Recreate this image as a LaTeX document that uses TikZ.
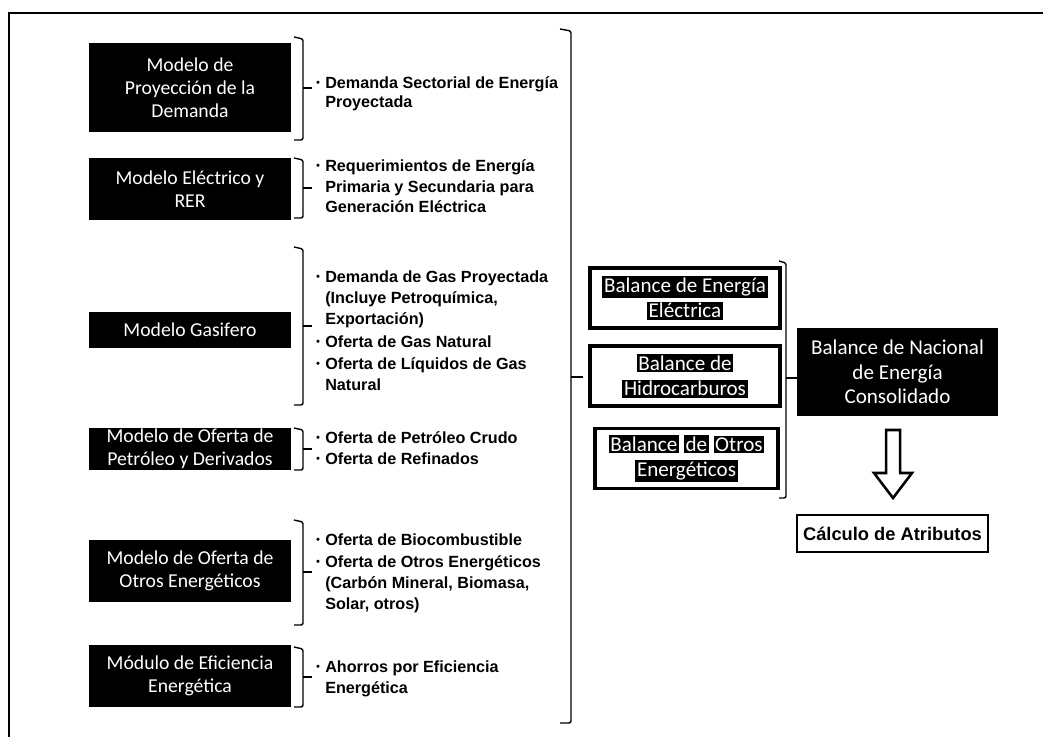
\documentclass[tikz,border=0pt]{standalone}
\usepackage{fontspec}
\setmainfont{Liberation Sans}
\newfontfamily\boxfont{Carlito}
\usetikzlibrary{positioning}
\tikzset{
  modbox/.style = {fill=black, text=white, inner sep=0, minimum width=5.05cm, align=center,
                   font=\boxfont\fontsize{14}{16.5}\selectfont},
  balbox/.style = {draw, line width=2.5pt, fill=white, inner sep=0, minimum height=1.5cm, align=center,
                   font=\boxfont\fontsize{15}{18}\selectfont},
  nacbox/.style = {fill=black, text=white, inner sep=0, minimum width=5.025cm, minimum height=2.175cm,
                   align=center, font=\boxfont\fontsize{15}{17.5}\selectfont},
  calcbox/.style = {draw, line width=2pt, inner sep=0, minimum width=4.775cm, minimum height=0.925cm,
                    font=\bfseries\fontsize{13}{14}\selectfont},
  itemtxt/.style = {anchor=base west, inner sep=0, font=\bfseries\fontsize{11.5}{14}\selectfont},
  dot/.style = {inner sep=0, font=\fontsize{8}{8}\selectfont},
  brk/.style = {line width=1pt, rounded corners=1.5pt},
}
\newcommand{\hl}[1]{{\setlength{\fboxsep}{1.2pt}\colorbox{black}{\textcolor{white}{#1}}}}

\begin{document}
\begin{tikzpicture}[x=0.025cm, y=-0.025cm]
  \useasboundingbox (0,0) rectangle (1043,736);
  \draw [line width=1.2pt] (9,13) rectangle (1100,800);

  % models on the left
  \foreach \n/\y/\h/\t in {
    1/87.5/2.225cm/{Modelo de\\Proyección de la\\Demanda},
    2/189/1.55cm/{Modelo Eléctrico y\\RER},
    3/330/0.9cm/{Modelo Gasifero},
    4/449/1.05cm/{Modelo de Oferta de\\Petróleo y Derivados},
    5/571/1.55cm/{Modelo de Oferta de\\Otros Energéticos},
    6/676/1.55cm/{Módulo de Eficiencia\\Energética}%
  }{
    \node (mod\n) [modbox, minimum height=\h] at (190,\y) {\t};
  }

  % brackets after each model
  \foreach \n/\t/\b/\m in {1/37/140/88, 2/158/218/188, 3/247/405/326,
                           4/428/470/449, 5/520/625/572, 6/647/707/677}{
    \draw [brk] (294,\t) -- (303,{\t+2}) -- (303,\b) -- (294,\b);
    \coordinate (tick\n) at (312,\m);
    \draw [line width=1pt] (303,\m) -- (tick\n);
  }

  % outputs of each model
  \foreach \y/\b/\t [count=\i] in {
    83/1/Demanda Sectorial de Energía, 102/0/Proyectada,
    166/1/Requerimientos de Energía, 187/0/Primaria y Secundaria para, 207/0/Generación Eléctrica,
    277/1/Demanda de Gas Proyectada, 298/0/{(Incluye Petroquímica,}, 319/0/Exportación),
    342/1/Oferta de Gas Natural, 364/1/Oferta de Líquidos de Gas, 385/0/Natural,
    438/1/Oferta de Petróleo Crudo, 459/1/Oferta de Refinados,
    540/1/Oferta de Biocombustible, 562/1/Oferta de Otros Energéticos,
    583/0/{(Carbón Mineral, Biomasa,}, 604/0/{Solar, otros)},
    667/1/Ahorros por Eficiencia, 688/0/Energética%
  }{
    \node (out\i) [itemtxt] at (325,{\y+5}) {\t};
    \ifnum\b=1 \node (bul\i) [dot] at (318,{\y+1}) {•}; \fi
  }

  % big bracket
  \draw [brk] (560,29) -- (571,31) -- (571,723) -- (560,723);
  \coordinate (bigtip) at (583,377);
  \draw [line width=1pt] (571,377) -- (bigtip);

  % balances
  \node (balE) [balbox, minimum width=4.75cm] at (685,298) {\hl{Balance de Energía}\\\hl{Eléctrica}};
  \node (balH) [balbox, minimum width=4.75cm] at (685,376) {\hl{Balance de}\\\hl{Hidrocarburos}};
  \node (balO) [balbox, minimum width=4.575cm] at (686.5,458.5) {\hl{Balance} \hl{de} \hl{Otros}\\\hl{Energéticos}};

  \draw [brk] (779,261) -- (786,263) -- (786,498) -- (779,498);

  \node (nac) [nacbox] at (897.5,372) {Balance de Nacional\\de Energía\\Consolidado};
  \coordinate (smid) at (786,378);
  \draw [line width=1pt] (smid) -- (smid -| nac.west);

  % block arrow down
  \draw [line width=1.8pt, fill=white] (886,430) -- (900,430) -- (900,473) -- (912,473)
    -- (893,498) -- (874,473) -- (886,473) -- cycle;

  \node (calc) [calcbox] at (892.5,533.5) {Cálculo de Atributos};
\end{tikzpicture}
\end{document}
